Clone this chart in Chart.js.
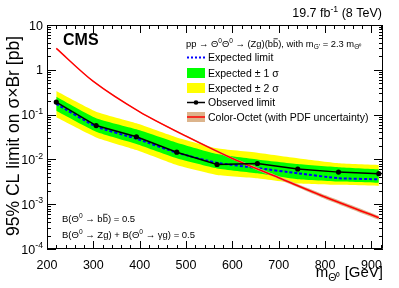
<!DOCTYPE html>
<html>
<head>
<meta charset="utf-8">
<script src="https://cdn.jsdelivr.net/npm/chart.js@4.4.1/dist/chart.umd.min.js"></script>
<style>
  html, body { margin: 0; padding: 0; background: #fff; }
  #wrap { width: 399px; height: 288px; position: relative; }
</style>
</head>
<body>
<div id="wrap"><canvas id="limitChart"></canvas></div>
<script>
// mass points of the limit (GeV)
const masses   = [220, 306, 393, 480, 567, 654, 741, 829, 916];
const observed = [0.19, 0.057, 0.032, 0.0145, 0.0077, 0.0081, 0.0061, 0.0052, 0.0048];
const expected = [0.173, 0.054, 0.029, 0.0141, 0.0084, 0.0064, 0.0049, 0.0038, 0.0036];
const exp1Up   = [0.25, 0.083, 0.047, 0.0236, 0.0132, 0.0100, 0.0079, 0.0067, 0.0060];
const exp1Down = [0.122, 0.0415, 0.0221, 0.0106, 0.0063, 0.0049, 0.0036, 0.0032, 0.0030];
const exp2Up   = [0.336, 0.116, 0.064, 0.031, 0.0177, 0.0141, 0.0106, 0.0082, 0.0075];
const exp2Down = [0.087, 0.031, 0.0162, 0.0075, 0.0045, 0.0038, 0.0029, 0.0027, 0.00255];

// colour-octet theory curve
const thMasses = [220, 300, 400, 500, 600, 700, 800, 900, 916];
const thXsec   = [3.0, 0.55, 0.115, 0.033, 0.0105, 0.0039, 0.00145, 0.00058, 0.0005];
const thUp     = [3.06, 0.56, 0.118, 0.0345, 0.0111, 0.0042, 0.0016, 0.00064, 0.00055];
const thDown   = [2.94, 0.54, 0.112, 0.0315, 0.0099, 0.0036, 0.00131, 0.00052, 0.00045];

const xTicks    = [200, 300, 400, 500, 600, 700, 800, 900];
const yTicks    = [10, 1, 0.1, 0.01, 0.001, 0.0001];
const yTickBase = ["10", "1", "10", "10", "10", "10"];
const yTickExp  = ["", "", "-1", "-2", "-3", "-4"];

const FONT = '"Liberation Sans", Arial, Helvetica, sans-serif';
const pts = (xs, ys) => xs.map((m, i) => ({ x: m, y: ys[i] }));

// segs: [text, mode] mode 0 normal, 1 superscript, 2 subscript, 3 overlined
function drawRich(ctx, x, y, segs, size, align, bold) {
  const f = s => (bold ? 'bold ' : '') + s + 'px ' + FONT;
  const widths = segs.map(s => {
    ctx.font = f(s[1] === 1 || s[1] === 2 ? size * 0.7 : size);
    return ctx.measureText(s[0]).width;
  });
  const total = widths.reduce((a, b) => a + b, 0);
  let cx = align === 'right' ? x - total : align === 'center' ? x - total / 2 : x;
  ctx.textAlign = 'left';
  ctx.textBaseline = 'alphabetic';
  segs.forEach((s, i) => {
    const small = s[1] === 1 || s[1] === 2;
    ctx.font = f(small ? size * 0.7 : size);
    const dy = s[1] === 1 ? -size * 0.42 : s[1] === 2 ? size * 0.28 : 0;
    ctx.fillText(s[0], cx, y + dy);
    if (s[1] === 3) ctx.fillRect(cx + size * 0.05, y - size * 0.86, widths[i] - size * 0.1, Math.max(0.8, size * 0.07));
    cx += widths[i];
  });
  return total;
}

const frame = {
  id: 'frame',
  afterDatasetsDraw(chart) {
    const { ctx, chartArea: a, scales: { x, y } } = chart;
    ctx.save();
    ctx.strokeStyle = '#000';
    ctx.lineWidth = 1;
    ctx.beginPath();
    ctx.rect(a.left + 0.5, a.top + 0.5, a.right - a.left - 1, a.bottom - a.top - 1);
    // x ticks, bottom and top
    for (let v = xTicks[0]; v <= x.max; v += 20) {
      const px = Math.round(x.getPixelForValue(v)) + 0.5;
      const len = xTicks.includes(v) ? 8 : 4;
      ctx.moveTo(px, a.bottom); ctx.lineTo(px, a.bottom - len);
      ctx.moveTo(px, a.top); ctx.lineTo(px, a.top + len);
    }
    // y log ticks, left and right
    for (let d = -4; d <= 1; d++) {
      for (let m = 1; m <= 9; m++) {
        const v = m * Math.pow(10, d);
        if (v > 10.0001) continue;
        const py = Math.round(y.getPixelForValue(v)) + 0.5;
        const len = m === 1 ? 9 : 4;
        ctx.moveTo(a.left, py); ctx.lineTo(a.left + len, py);
        ctx.moveTo(a.right, py); ctx.lineTo(a.right - len, py);
      }
    }
    ctx.stroke();

    ctx.fillStyle = '#000';
    // tick labels
    xTicks.forEach(v => {
      ctx.font = '12.5px ' + FONT;
      ctx.textAlign = 'center';
      ctx.textBaseline = 'alphabetic';
      ctx.fillText(String(v), x.getPixelForValue(v), 268.5);
    });
    yTicks.forEach((v, i) => {
      const segs = [[yTickBase[i], 0]];
      if (yTickExp[i]) segs.push([yTickExp[i], 1]);
      drawRich(ctx, a.left - 4, y.getPixelForValue(v) + 4.5, segs, 12.5, 'right');
    });

    // axis titles
    drawRich(ctx, a.right, 277, [['m', 0], ['\u0398\u2070', 2], [' [GeV]', 0]], 15, 'right');
    ctx.save();
    ctx.translate(19, 136);
    ctx.rotate(-Math.PI / 2);
    ctx.font = '17.5px ' + FONT;
    ctx.textAlign = 'center';
    ctx.textBaseline = 'alphabetic';
    ctx.fillText('95% CL limit on \u03c3\u00d7Br [pb]', 0, 0);
    ctx.restore();

    // labels
    drawRich(ctx, 63, 45, [['CMS', 0]], 16, 'left', true);
    drawRich(ctx, a.right - 1, 17, [['19.7 fb', 0], ['-1', 1], [' (8 TeV)', 0]], 12.5, 'right');
    drawRich(ctx, 62, 222, [['B(\u0398', 0], ['0', 1], [' \u2192 b', 0], ['b', 3], [') = 0.5', 0]], 9.5, 'left');
    drawRich(ctx, 62, 238, [['B(\u0398', 0], ['0', 1], [' \u2192 Zg) + B(\u0398', 0], ['0', 1], [' \u2192 \u03b3g) = 0.5', 0]], 9.5, 'left');

    // legend
    drawRich(ctx, 186, 46.5, [['pp \u2192 \u0398', 0], ['0', 1], ['\u0398', 0], ['0', 1],
      [' \u2192 (Zg)(b', 0], ['b', 3], ['), with m', 0], ["G'", 2], [' = 2.3 m', 0], ['\u0398\u2070', 2]], 9.4, 'left');
    const lx0 = 187, lx1 = 205, tx = 208;
    const rows = [57.5, 73, 88, 102.5, 117];
    // expected
    ctx.strokeStyle = '#0000ff'; ctx.lineWidth = 2; ctx.setLineDash([2, 2]);
    ctx.beginPath(); ctx.moveTo(lx0, rows[0]); ctx.lineTo(lx1, rows[0]); ctx.stroke();
    ctx.setLineDash([]);
    // bands
    ctx.fillStyle = '#00ff00'; ctx.fillRect(lx0, rows[1] - 5, lx1 - lx0, 10);
    ctx.fillStyle = '#ffff00'; ctx.fillRect(lx0, rows[2] - 5, lx1 - lx0, 10);
    // observed
    ctx.strokeStyle = '#000'; ctx.lineWidth = 1.5;
    ctx.beginPath(); ctx.moveTo(lx0, rows[3]); ctx.lineTo(lx1, rows[3]); ctx.stroke();
    ctx.fillStyle = '#000';
    ctx.beginPath(); ctx.arc((lx0 + lx1) / 2, rows[3], 2.3, 0, 2 * Math.PI); ctx.fill();
    // theory
    ctx.fillStyle = '#dcb48c'; ctx.fillRect(lx0, rows[4] - 5, lx1 - lx0, 10);
    ctx.strokeStyle = '#ff0000'; ctx.lineWidth = 1.5;
    ctx.beginPath(); ctx.moveTo(lx0, rows[4]); ctx.lineTo(lx1, rows[4]); ctx.stroke();
    ctx.fillStyle = '#000';
    const names = [[['Expected limit', 0]], [['Expected \u00b1 1 \u03c3', 0]], [['Expected \u00b1 2 \u03c3', 0]],
      [['Observed limit', 0]], [['Color-Octet (with PDF uncertainty)', 0]]];
    names.forEach((n, i) => drawRich(ctx, tx, rows[i] + 3.8, n, 10.5, 'left'));
    ctx.restore();
  }
};

const band = (data, fill, color, order) => ({
  data, fill, backgroundColor: color, borderWidth: 0, pointRadius: 0, order, tension: 0.15
});

new Chart(document.getElementById('limitChart'), {
  type: 'line',
  data: {
    datasets: [
      band(pts(masses, exp2Up), '+1', '#ffff00', 10),
      band(pts(masses, exp2Down), false, '#ffff00', 10),
      band(pts(masses, exp1Up), '+1', '#00ff00', 9),
      band(pts(masses, exp1Down), false, '#00ff00', 9),
      {
        data: pts(masses, expected), borderColor: '#0000ff', borderWidth: 2, borderDash: [3, 2],
        pointRadius: 0, fill: false, order: 6, tension: 0.15
      },
      band(pts(thMasses, thUp), '+1', '#dcb48c', 5),
      band(pts(thMasses, thDown), false, '#dcb48c', 5),
      {
        data: pts(thMasses, thXsec), borderColor: '#ff0000', borderWidth: 1.5,
        pointRadius: 0, fill: false, order: 4, tension: 0.3
      },
      {
        data: pts(masses, observed), borderColor: '#000', borderWidth: 1.5,
        pointRadius: 2.6, pointBackgroundColor: '#000', pointBorderWidth: 0,
        fill: false, order: 1, tension: 0
      }
    ]
  },
  options: {
    responsive: true,
    maintainAspectRatio: false,
    animation: false,
    layout: { padding: { left: 47, right: 16, top: 25, bottom: 39 } },
    plugins: { legend: { display: false }, tooltip: { enabled: false } },
    scales: {
      x: { type: 'linear', min: 200, max: 925, display: false },
      y: { type: 'logarithmic', min: 0.0001, max: 10, display: false }
    }
  },
  plugins: [frame]
});
</script>
</body>
</html>
